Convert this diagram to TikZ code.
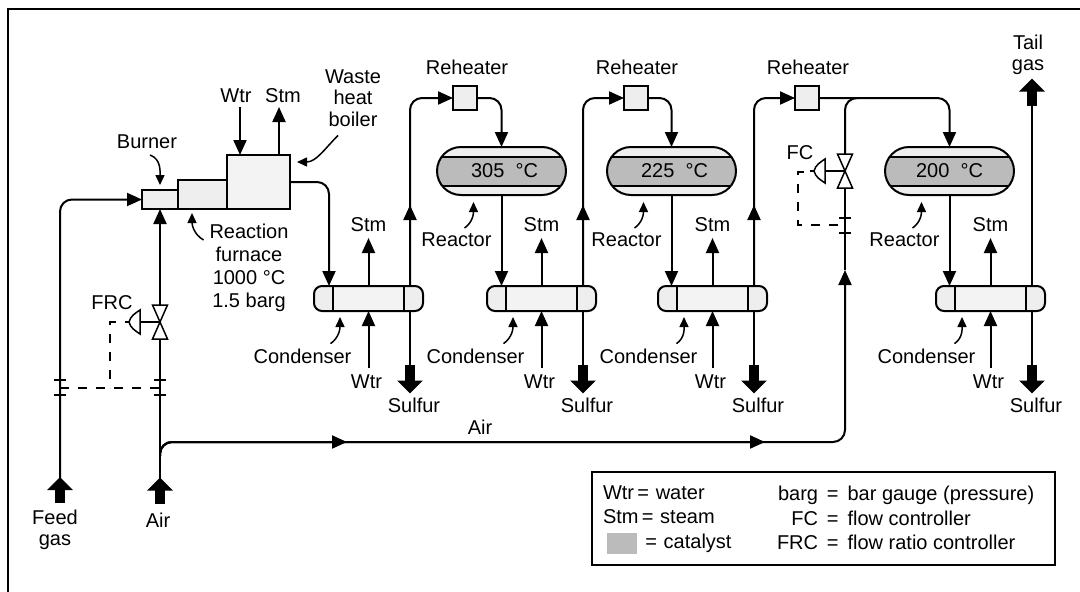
\documentclass[tikz,border=0pt]{standalone}
\usepackage{fontspec}
\setmainfont{Liberation Sans}
\usetikzlibrary{positioning, arrows.meta}
\definecolor{catalystgray}{HTML}{BBBBBB}
\definecolor{unitgray}{HTML}{EEEEEE}
\definecolor{tubegray}{HTML}{F3F3F3}
\tikzset{
  flowline/.style={line width=2pt, rounded corners=12pt},
  notearrow/.style={line width=1.5pt, -{Stealth[inset=0pt, length=10pt, width=9pt]}},
  tickline/.style={line width=1.5pt},
  signalline/.style={line width=2pt, dash pattern=on 9pt off 9pt},
  valvebody/.style={line width=1.5pt, fill=white},
  notelabel/.style={inner sep=0pt, outer sep=0pt, align=center},
  bigarrow/.style={line width=10pt, -{Triangle[length=13pt, width=25pt]}},
  unitbox/.style={draw, line width=2pt, fill=unitgray, inner sep=0pt, outer sep=0pt},
  reactorbox/.style={draw, line width=2pt, fill=unitgray, rounded corners=24pt, minimum width=129pt, minimum height=48pt, inner sep=0pt, outer sep=0pt,
    path picture={
      \fill[catalystgray, sharp corners] ([yshift=-10pt]path picture bounding box.north west) rectangle ([yshift=9pt]path picture bounding box.south east);
      \draw[line width=2pt, sharp corners] ([yshift=-10pt]path picture bounding box.north west) -- ([yshift=-10pt]path picture bounding box.north east);
      \draw[line width=2pt, sharp corners] ([yshift=9pt]path picture bounding box.south west) -- ([yshift=9pt]path picture bounding box.south east);
    }},
  condenserbox/.style={draw, line width=2pt, fill=tubegray, rounded corners=8pt, minimum width=109pt, minimum height=25pt, inner sep=0pt, outer sep=0pt,
    path picture={
      \fill[unitgray, sharp corners] (path picture bounding box.south west) rectangle ([xshift=19pt]path picture bounding box.north west);
      \fill[unitgray, sharp corners] ([xshift=-19pt]path picture bounding box.south east) rectangle (path picture bounding box.north east);
      \draw[line width=2pt, sharp corners] ([xshift=19pt]path picture bounding box.south west) -- ([xshift=19pt]path picture bounding box.north west);
      \draw[line width=2pt, sharp corners] ([xshift=-19pt]path picture bounding box.south east) -- ([xshift=-19pt]path picture bounding box.north east);
    }}
}
\begin{document}
\begin{tikzpicture}[x=1pt, y=-1pt, >={Stealth[inset=0pt, length=15pt, width=13pt]}, every node/.style={font=\fontsize{20}{21.5}\selectfont}]
        \useasboundingbox (0,0) rectangle (1080,592);

        % Frame
        \coordinate (FrameCorner) at (8,9);
        \coordinate (FrameBottom) at (8,592);
        \coordinate (FrameRight) at (1080,9);
        \draw[line width=2pt] (FrameBottom) -- (FrameCorner) -- (FrameRight);

        % Furnace train
        \node (Burner) [unitbox, minimum width=36pt, minimum height=19pt] at (160,199.5) {};
        \node (Furnace) [unitbox, anchor=south west, minimum width=49pt, minimum height=29pt] at (Burner.south east) {};
        \node (Boiler) [unitbox, fill=tubegray, anchor=south west, minimum width=63pt, minimum height=54pt] at (Furnace.south east) {};

        % Condensers
        \node (Condenser1) [condenserbox] at (368.5,298.5) {};
        \node (Condenser2) [condenserbox, right=64pt of Condenser1] {};
        \node (Condenser3) [condenserbox, right=62pt of Condenser2] {};
        \node (Condenser4) [condenserbox, right=169pt of Condenser3] {};

        % Reactors
        \node (Reactor1) [reactorbox] at (501.5,171) {\hspace*{6pt}305\ \ °C};
        \node (Reactor2) [reactorbox, right=41pt of Reactor1] {\hspace*{6pt}225\ \ °C};
        \node (Reactor3) [reactorbox, right=149pt of Reactor2] {200\ \ °C};

        % Reheaters
        \node (Reheater1) [unitbox, minimum width=24pt, minimum height=24pt] at (465,98) {};
        \node (Reheater2) [unitbox, minimum width=24pt, minimum height=24pt, right=147pt of Reheater1] {};
        \node (Reheater3) [unitbox, minimum width=24pt, minimum height=24pt, right=147pt of Reheater2] {};

        % Big arrows
        \coordinate (FeedIn) at (60,490);
        \coordinate (AirIn) at (160,490.5);
        \coordinate (TailOut) at ([xshift=41.5pt, yshift=194pt]Condenser4.north);
        \coordinate (SulfurOut1) at ([xshift=41.5pt, yshift=-68pt]Condenser1.south);
        \coordinate (SulfurOut2) at ([xshift=41.5pt, yshift=-68pt]Condenser2.south);
        \coordinate (SulfurOut3) at ([xshift=41.5pt, yshift=-68pt]Condenser3.south);
        \coordinate (SulfurOut4) at ([xshift=41.5pt, yshift=-68pt]Condenser4.south);
        \draw[bigarrow] ([yshift=-13pt]FeedIn) -- ([yshift=13pt]FeedIn);
        \draw[bigarrow] ([yshift=-13pt]AirIn) -- ([yshift=13pt]AirIn);
        \draw[bigarrow] ([yshift=-13.5pt]TailOut) -- ([yshift=13.5pt]TailOut);
        \draw[bigarrow] ([yshift=14.5pt]SulfurOut1) -- ([yshift=-14.5pt]SulfurOut1);
        \draw[bigarrow] ([yshift=14.5pt]SulfurOut2) -- ([yshift=-14.5pt]SulfurOut2);
        \draw[bigarrow] ([yshift=14.5pt]SulfurOut3) -- ([yshift=-14.5pt]SulfurOut3);
        \draw[bigarrow] ([yshift=14.5pt]SulfurOut4) -- ([yshift=-14.5pt]SulfurOut4);

        % Valves and taps
        \coordinate (FRCValve) at (160,322);
        \coordinate (FCValve) at (845,171);
        \coordinate (FeedTap) at (60,388);
        \coordinate (AirTap) at (160,388);
        \coordinate (FCTap) at (845,225);
        \coordinate (AirTee) at (160,456);
        \coordinate (FCTee) at (858,98);
        \coordinate (FRCDrop) at (110,388);
        \coordinate (FRCSignal) at (116,322);
        \coordinate (FCDrop) at (798,225);
        \coordinate (FCSignal) at (804,172);
        \coordinate (AirMark1) at (347,442);
        \coordinate (AirMark2) at (765,442);
        \coordinate (AirMark3) at (845,270);

        % Feed and air
        \draw[flowline, ->] (FeedIn) |- (Burner.west);
        \draw[flowline] (AirIn) -- ([yshift=-17pt]FRCValve);
        \draw[flowline, ->] ([yshift=17pt]FRCValve) -- (Burner.south);
        \draw[flowline, ->] (AirTee) |- (AirMark1);
        \draw[flowline, ->] (AirTee) |- (AirMark2);
        \draw[flowline, ->] (AirTee) |- (AirMark3 |- AirMark2) -- (AirMark3);
        \draw[flowline] (AirMark3) -- ([yshift=-17pt]FCValve);
        \draw[flowline] (FCTee) -| ([yshift=17pt]FCValve);

        % Process line
        \draw[flowline, ->] (Boiler.east) -| ([xshift=-39.5pt]Condenser1.north);
        \draw[flowline, ->] ([xshift=41.5pt]Condenser1.north) -- ++(0,-81);
        \draw[flowline, ->] ([xshift=41.5pt]Condenser1.north) |- (Reheater1.west);
        \draw[flowline, ->] (Reheater1.east) -| (Reactor1.north);
        \draw[flowline, ->] (Reactor1.south) -- (Reactor1.south |- Condenser2.north);
        \draw[flowline, ->] ([xshift=41.5pt]Condenser2.north) -- ++(0,-81);
        \draw[flowline, ->] ([xshift=41.5pt]Condenser2.north) |- (Reheater2.west);
        \draw[flowline, ->] (Reheater2.east) -| (Reactor2.north);
        \draw[flowline, ->] (Reactor2.south) -- (Reactor2.south |- Condenser3.north);
        \draw[flowline, ->] ([xshift=41.5pt]Condenser3.north) -- ++(0,-81);
        \draw[flowline, ->] ([xshift=41.5pt]Condenser3.north) |- (Reheater3.west);
        \draw[flowline, ->] (Reheater3.east) -| (Reactor3.north);
        \draw[flowline, ->] (Reactor3.south) -- (Reactor3.south |- Condenser4.north);
        \draw[flowline] ([xshift=41.5pt]Condenser4.north) -- (TailOut);

        % Sulfur
        \draw[flowline] ([xshift=41.5pt]Condenser1.south) -- (SulfurOut1);
        \draw[flowline] ([xshift=41.5pt]Condenser2.south) -- (SulfurOut2);
        \draw[flowline] ([xshift=41.5pt]Condenser3.south) -- (SulfurOut3);
        \draw[flowline] ([xshift=41.5pt]Condenser4.south) -- (SulfurOut4);

        % Water and steam
        \draw[line width=2pt, ->] ([xshift=-18.5pt, yshift=48pt]Boiler.north) -- ([xshift=-18.5pt]Boiler.north);
        \draw[line width=2pt, ->] ([xshift=20.5pt]Boiler.north) -- ([xshift=20.5pt, yshift=48pt]Boiler.north);
        \draw[line width=2pt, ->] (Condenser1.north) -- ++(0,-48);
        \draw[line width=2pt, ->] ([yshift=-57pt]Condenser1.south) -- (Condenser1.south);
        \draw[line width=2pt, ->] (Condenser2.north) -- ++(0,-48);
        \draw[line width=2pt, ->] ([yshift=-57pt]Condenser2.south) -- (Condenser2.south);
        \draw[line width=2pt, ->] (Condenser3.north) -- ++(0,-48);
        \draw[line width=2pt, ->] ([yshift=-57pt]Condenser3.south) -- (Condenser3.south);
        \draw[line width=2pt, ->] (Condenser4.north) -- ++(0,-48);
        \draw[line width=2pt, ->] ([yshift=-57pt]Condenser4.south) -- (Condenser4.south);

        % FRC valve
        \draw[valvebody] ([shift={(-7.5,-17)}]FRCValve) -- ++(15,0) -- ++(-15,34) -- ++(15,0) -- cycle;
        \draw[line width=2pt] (FRCValve) -- ++(-20,0);
        \draw[valvebody] ([shift={(-20,-12)}]FRCValve) to[out=215,in=75] ([shift={(-31,0)}]FRCValve) to[out=-75,in=145] ([shift={(-20,12)}]FRCValve) -- cycle;
        \draw[tickline] ([shift={(-31,0)}]FRCValve) -- ++(-4,0);
        \draw[signalline] (FRCSignal) -| (FRCDrop);
        \draw[signalline] (FeedTap) -- (AirTap);
        \draw[tickline] ([shift={(-6,-8)}]FeedTap) -- ++(12,0);
        \draw[tickline] ([shift={(-6,7)}]FeedTap) -- ++(12,0);
        \draw[tickline] ([shift={(-6,-8)}]AirTap) -- ++(12,0);
        \draw[tickline] ([shift={(-6,7)}]AirTap) -- ++(12,0);

        % FC valve
        \draw[valvebody] ([shift={(-7.5,-17)}]FCValve) -- ++(15,0) -- ++(-15,34) -- ++(15,0) -- cycle;
        \draw[line width=2pt] (FCValve) -- ++(-20,0);
        \draw[valvebody] ([shift={(-20,-12)}]FCValve) to[out=215,in=75] ([shift={(-31,0)}]FCValve) to[out=-75,in=145] ([shift={(-20,12)}]FCValve) -- cycle;
        \draw[tickline] ([shift={(-31,0)}]FCValve) -- ++(-4,0);
        \draw[signalline] (FCSignal) -| (FCDrop) -- (FCTap);
        \draw[tickline] ([shift={(-6,-7)}]FCTap) -- ++(12,0);
        \draw[tickline] ([shift={(-6,8)}]FCTap) -- ++(12,0);

        % Labels
        \node (BurnerLabel) [notelabel] at (147,142) {Burner};
        \node (WtrTop) [notelabel] at (236,96) {Wtr};
        \node (StmTop) [notelabel] at (283,96) {Stm};
        \node (WasteLabel) [notelabel] at (353,98) {Waste\\heat\\boiler};
        \node (ReactionLabel) [notelabel, anchor=north] at (249,224) {Reaction\\[1.5pt]furnace\\[1.5pt]1000 °C\\[1.5pt]1.5 barg};
        \node (FRCLabel) [notelabel] at (112,303) {FRC};
        \node (FCLabel) [notelabel] at (800,153) {FC};
        \node (FeedLabel) [notelabel] at (55,530) {Feed\\gas};
        \node (AirInLabel) [notelabel] at (158,520) {Air};
        \node (AirLabel) [notelabel] at (480,427) {Air};
        \node (TailLabel) [notelabel] at (1028,55) {Tail\\gas};
        \node (ReheaterLabel1) [notelabel] at (467,67) {Reheater};
        \node (ReheaterLabel2) [notelabel] at (637,67) {Reheater};
        \node (ReheaterLabel3) [notelabel] at (808,67) {Reheater};
        \node (ReactorLabel1) [notelabel] at ([xshift=-45pt, yshift=-45pt]Reactor1.south) {Reactor};
        \node (ReactorLabel2) [notelabel] at ([xshift=-45pt, yshift=-45pt]Reactor2.south) {Reactor};
        \node (ReactorLabel3) [notelabel] at ([xshift=-45pt, yshift=-45pt]Reactor3.south) {Reactor};
        \node (CondenserLabel1) [notelabel] at ([xshift=-66pt, yshift=-45pt]Condenser1.south) {Condenser};
        \node (CondenserLabel2) [notelabel] at ([xshift=-66pt, yshift=-45pt]Condenser2.south) {Condenser};
        \node (CondenserLabel3) [notelabel] at ([xshift=-64pt, yshift=-45pt]Condenser3.south) {Condenser};
        \node (CondenserLabel4) [notelabel] at ([xshift=-64pt, yshift=-45pt]Condenser4.south) {Condenser};
        \node (StmLabel1) [notelabel] at ([yshift=61pt]Condenser1.north) {Stm};
        \node (StmLabel2) [notelabel] at ([yshift=61pt]Condenser2.north) {Stm};
        \node (StmLabel3) [notelabel] at ([yshift=61pt]Condenser3.north) {Stm};
        \node (StmLabel4) [notelabel] at ([yshift=61pt]Condenser4.north) {Stm};
        \node (WtrLabel1) [notelabel] at ([xshift=-2pt, yshift=-71pt]Condenser1.south) {Wtr};
        \node (WtrLabel2) [notelabel] at ([xshift=-2pt, yshift=-71pt]Condenser2.south) {Wtr};
        \node (WtrLabel3) [notelabel] at ([xshift=-2pt, yshift=-71pt]Condenser3.south) {Wtr};
        \node (WtrLabel4) [notelabel] at ([xshift=-2pt, yshift=-71pt]Condenser4.south) {Wtr};
        \node (SulfurLabel1) [notelabel] at ([xshift=45.5pt, yshift=-94pt]Condenser1.south) {Sulfur};
        \node (SulfurLabel2) [notelabel] at ([xshift=45.5pt, yshift=-94pt]Condenser2.south) {Sulfur};
        \node (SulfurLabel3) [notelabel] at ([xshift=45.5pt, yshift=-94pt]Condenser3.south) {Sulfur};
        \node (SulfurLabel4) [notelabel] at ([xshift=45.5pt, yshift=-94pt]Condenser4.south) {Sulfur};

        % Callouts
        \draw[notearrow] ([xshift=3pt, yshift=-6pt]BurnerLabel.south) to[out=-20,in=90] ([yshift=5pt]Burner.north);
        \draw[notearrow] ([xshift=-6pt, yshift=-16pt]ReactionLabel.north west) to[out=150,in=-90] ([xshift=14pt, yshift=-4pt]Furnace.south west);
        \draw[notearrow] ([xshift=-15pt, yshift=-9pt]WasteLabel.south) to[out=-135,in=0] ([xshift=7pt, yshift=20pt]Boiler.east);
        \draw[notearrow] ([xshift=8pt, yshift=5pt]ReactorLabel1.north) to[out=35,in=-90] ([xshift=-28pt, yshift=-7pt]Reactor1.south);
        \draw[notearrow] ([xshift=8pt, yshift=5pt]ReactorLabel2.north) to[out=35,in=-90] ([xshift=-28pt, yshift=-7pt]Reactor2.south);
        \draw[notearrow] ([xshift=8pt, yshift=5pt]ReactorLabel3.north) to[out=35,in=-90] ([xshift=-28pt, yshift=-7pt]Reactor3.south);
        \draw[notearrow] ([xshift=28pt, yshift=5pt]CondenserLabel1.north) to[out=35,in=-90] ([xshift=-28.5pt, yshift=-6pt]Condenser1.south);
        \draw[notearrow] ([xshift=28pt, yshift=5pt]CondenserLabel2.north) to[out=35,in=-90] ([xshift=-28.5pt, yshift=-6pt]Condenser2.south);
        \draw[notearrow] ([xshift=28pt, yshift=5pt]CondenserLabel3.north) to[out=35,in=-90] ([xshift=-28.5pt, yshift=-6pt]Condenser3.south);
        \draw[notearrow] ([xshift=28pt, yshift=5pt]CondenserLabel4.north) to[out=35,in=-90] ([xshift=-28.5pt, yshift=-6pt]Condenser4.south);

        % Legend
        \node (Legend) [draw, line width=2pt, minimum width=463pt, minimum height=93pt, inner sep=0pt, outer sep=0pt] at (823.5,518.5) {};
        \node (LegendWtr) [notelabel, anchor=west] at ([xshift=11pt, yshift=-21pt]Legend.north west) {Wtr\,=\,\,water};
        \node (LegendStm) [notelabel, anchor=west] at ([xshift=11pt, yshift=-45pt]Legend.north west) {Stm\,=\,\,steam};
        \node (LegendSwatch) [fill=catalystgray, inner sep=0pt, minimum width=30pt, minimum height=21pt, anchor=west] at ([xshift=15pt, yshift=-71pt]Legend.north west) {};
        \node (LegendCatalyst) [notelabel, anchor=west] at ([xshift=8pt]LegendSwatch.east) {=\,\,catalyst};
        \node (LegendRight) [notelabel, anchor=north west, font=\fontsize{20}{22.5}\selectfont] at ([xshift=185pt, yshift=-13pt]Legend.north west) {%
          \begin{tabular}{@{}r@{\ \,=\ \,}l@{}}
            barg & bar gauge (pressure)\\[2pt]
            FC & flow controller\\[2pt]
            FRC & flow ratio controller
          \end{tabular}};
\end{tikzpicture}
\end{document}
